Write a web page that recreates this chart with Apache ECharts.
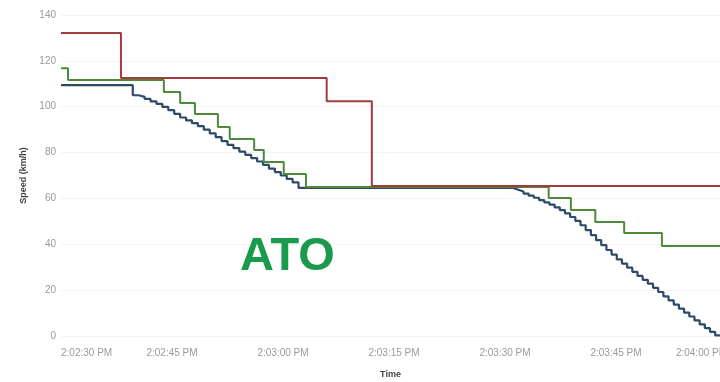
<!DOCTYPE html>
<html>
<head>
<meta charset="utf-8">
<script src="https://cdn.jsdelivr.net/npm/echarts@6/dist/echarts.min.js"></script>
<style>
html,body{margin:0;padding:0;background:#fff;}
#chart{width:720px;height:382px;}
</style>
</head>
<body>
<div id="chart"></div>
<script>
// x values are seconds after 2:02:30 PM
var timeLabels = ['2:02:30 PM','2:02:45 PM','2:03:00 PM','2:03:15 PM','2:03:30 PM','2:03:45 PM','2:04:00 PM'];
var yTicks = [0,20,40,60,80,100,120,140];

// speed limit (red)
var redTime  = [0, 8.1, 35.9, 42.0, 90];
var redSpeed = [132.1, 112.5, 102.4, 65.4, 65.4];

// target / command speed (green)
var greenTime  = [0, 0.95, 13.9, 16.1, 18.1, 21.2, 22.8, 26.1, 27.4, 30.1, 33.1, 65.9, 68.9, 72.2, 76.1, 81.2, 90];
var greenSpeed = [116.8, 111.6, 106.4, 101.6, 96.8, 91.1, 85.9, 81.1, 75.9, 70.6, 65.0, 60.2, 54.9, 49.7, 44.9, 39.3, 39.3];

// actual speed (blue)
var blueTime = [0, 9.7, 10.5, 11.3, 12.1, 12.9, 13.7, 14.5, 15.3, 16.1, 16.9, 17.7, 18.5, 19.3, 20.1, 20.9,
  21.7, 22.5, 23.3, 24.1, 24.9, 25.7, 26.5, 27.3, 28.1, 28.9, 29.7, 30.5, 31.3, 32.1,
  61.1, 61.8, 62.5, 63.2, 63.9, 64.6, 65.3, 66.0, 66.7, 67.4, 68.1, 68.8, 69.5, 70.2, 70.9,
  71.6, 72.3, 73.0, 73.7, 74.4, 75.1, 75.8, 76.5, 77.2, 77.9, 78.6, 79.3, 80.0, 80.7, 81.4,
  82.1, 82.8, 83.5, 84.2, 84.9, 85.6, 86.3, 87.0, 87.7, 88.4, 90];
var blueSpeed = [109.4, 105.0, 104.3, 103.4, 102.3, 101.2, 99.9, 98.5, 96.9, 95.3, 94.0, 92.8, 91.5, 90.0, 88.4, 86.7,
  85.0, 83.4, 81.9, 80.4, 79.0, 77.6, 76.1, 74.6, 73.0, 71.5, 70.0, 68.5, 67.0, 64.6,
  63.8, 63.0, 62.1, 61.2, 60.3, 59.3, 58.3, 57.3, 56.1, 54.9, 53.5, 51.9, 50.2, 48.3, 46.2,
  44.0, 41.8, 39.6, 37.5, 35.5, 33.4, 31.6, 29.8, 28.0, 26.2, 24.5, 22.8, 21.0, 19.2, 17.3,
  15.5, 13.7, 11.9, 10.2, 8.5, 6.8, 5.1, 3.4, 1.8, 0.3, 0.0];

// visible time window (seconds); the window ends just before 2:04:00 PM
var xMax = 89.05;

function pairs(xs, ys){ return xs.map(function(x,i){ return [x, ys[i]]; }); }

var chart = echarts.init(document.getElementById('chart'), null, {renderer:'canvas'});
var labelFont = {fontFamily: 'Liberation Sans', fontSize: 10, color: '#9a9a9a'};
chart.setOption({
  animation: false,
  backgroundColor: '#ffffff',
  grid: {left: 61, right: 0, top: 15, bottom: 46, containLabel: false, outerBoundsMode: 'none'},
  xAxis: {
    type: 'value', min: 0, max: xMax, interval: 15,
    name: 'Time', nameLocation: 'middle', nameGap: 34,
    nameTextStyle: {fontFamily: 'Liberation Sans', fontSize: 9, fontWeight: 'bold', color: '#444'},
    axisLine: {show: false}, axisTick: {show: false}, splitLine: {show: false},
    axisLabel: {
      fontFamily: labelFont.fontFamily, fontSize: labelFont.fontSize, color: labelFont.color, margin: 12,
      alignMinLabel: 'left',
      formatter: function(v){
        var k = v / 15;
        return Math.abs(k - Math.round(k)) < 1e-6 ? timeLabels[Math.round(k)] : '';
      }
    }
  },
  yAxis: {
    type: 'value', min: yTicks[0], max: yTicks[yTicks.length-1], interval: 20,
    name: 'Speed (km/h)', nameLocation: 'middle', nameGap: 33,
    nameTextStyle: {fontFamily: 'Liberation Sans', fontSize: 9, fontWeight: 'bold', color: '#444'},
    axisLine: {show: false}, axisTick: {show: false},
    splitLine: {show: true, lineStyle: {color: '#f3f3f3', width: 1}},
    axisLabel: {fontFamily: labelFont.fontFamily, fontSize: labelFont.fontSize, color: labelFont.color, margin: 5}
  },
  series: [
    {type: 'line', step: 'end', symbol: 'none', data: pairs(blueTime, blueSpeed),
     lineStyle: {color: '#2e4a68', width: 2.2}, z: 2},
    {type: 'line', step: 'end', symbol: 'none', data: pairs(greenTime, greenSpeed),
     lineStyle: {color: '#4f8a3c', width: 2}, z: 3},
    {type: 'line', step: 'end', symbol: 'none', data: pairs(redTime, redSpeed),
     lineStyle: {color: '#a33a40', width: 2}, z: 4}
  ],
  graphic: []
});

// place the 2:04:00 PM label at its time position (just past the right edge), right-aligned like the axis end label
var endPx = chart.convertToPixel({gridIndex: 0}, [90, 0]);
chart.setOption({
  graphic: [
    {type: 'text', x: endPx[0], y: endPx[1] + 12, z: 10,
     style: {text: timeLabels[6], align: 'right', verticalAlign: 'top',
             fontFamily: labelFont.fontFamily, fontSize: labelFont.fontSize, fill: labelFont.color}},
    {type: 'text', left: 240, top: 234, z: 10,
     style: {text: 'ATO', fontFamily: 'Liberation Sans', fontSize: 47, fontWeight: 'bold', fill: '#199a4c'}}
  ]
});
</script>
</body>
</html>
